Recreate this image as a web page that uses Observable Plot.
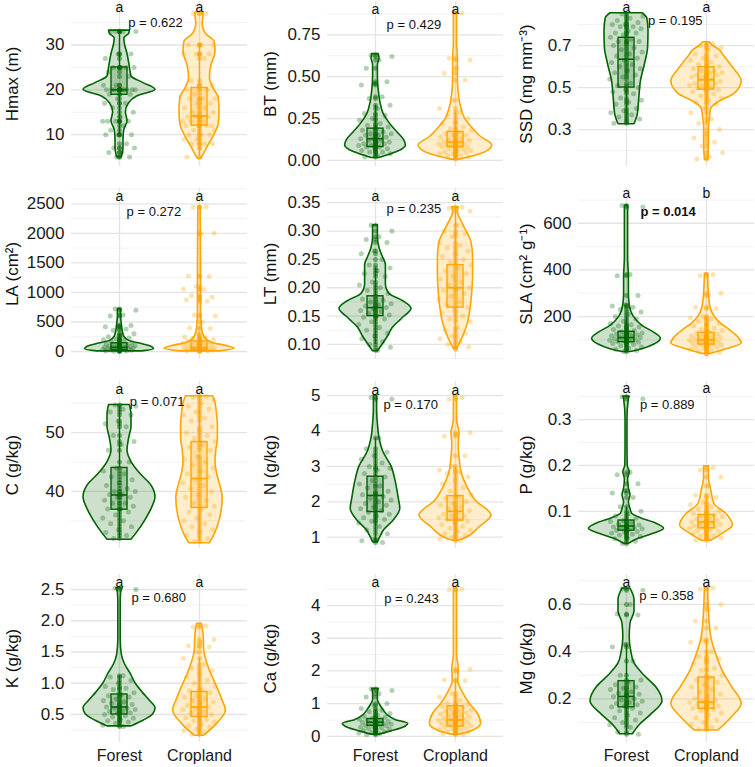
<!DOCTYPE html>
<html><head><meta charset="utf-8">
<script src="https://cdn.jsdelivr.net/npm/d3@7"></script>
<script src="https://cdn.jsdelivr.net/npm/@observablehq/plot@0.6"></script>
<style>
body{margin:0;background:#fff;overflow:hidden;}
#wrap{position:relative;width:755px;height:767px;background:#fff;}
#wrap svg{position:absolute;overflow:visible;}
</style></head><body><div id="wrap"></div>
<script>
const groups = ["Forest", "Cropland"];
const yTitles = ["Hmax (m)","BT (mm)","SSD (mg mm⁻³)","LA (cm²)","LT (mm)","SLA (cm² g⁻¹)","C (g/kg)","N (g/kg)","P (g/kg)","K (g/kg)","Ca (g/kg)","Mg (g/kg)"];
const pValues = ["0.622","0.429","0.195","0.272","0.235","0.014","0.071","0.170","0.889","0.680","0.243","0.358"];
const lettersForest = ["a","a","a","a","a","a","a","a","a","a","a","a"];
const lettersCropland = ["a","a","a","a","a","b","a","a","a","a","a","a"];
const yTicks = [[10,20,30],[0,0.25,0.5,0.75],[0.3,0.5,0.7],[0,500,1000,1500,2000,2500],[0.10,0.15,0.20,0.25,0.30,0.35],[200,400,600],[40,50],[1,2,3,4,5],[0.1,0.2,0.3],[0.5,1.0,1.5,2.0,2.5],[0,1,2,3,4],[0.2,0.4,0.6]];
const yTickLabels = [["10","20","30"],["0.00","0.25","0.50","0.75"],["0.3","0.5","0.7"],["0","500","1000","1500","2000","2500"],["0.10","0.15","0.20","0.25","0.30","0.35"],["200","400","600"],["40","50"],["1","2","3","4","5"],["0.1","0.2","0.3"],["0.5","1.0","1.5","2.0","2.5"],["0","1","2","3","4"],["0.2","0.4","0.6"]];
const yLimits = [[2.9,39.7],[-0.036,0.949],[0.124,0.91],[-135,2759],[0.0735,0.375],[16,749],[30.3,58.7],[0.68,5.4],[0.019,0.383],[0.052,2.74],[-0.19,4.95],[0.015,0.727]];
const letterY = [38.3,0.902,0.881,2629,0.3616,727,57.4,5.14,0.367,2.61,4.71,0.694];
const pLabelX = [1.45,1.48,1.61,1.43,1.48,1.52,1.47,1.44,1.51,1.49,1.45,1.5];
const pLabelY = [35,0.811,0.819,2370,0.3394,651,55.2,4.75,0.332,2.37,4.22,0.638];

const boxForest = [[18.9,20,25],[0.08,0.13,0.19],[0.5,0.635,0.737],[20,70,140],[0.15,0.165,0.185],[90,110,135],[36.9,39.4,44],[1.71,2.18,2.71],[0.058,0.068,0.08],[0.5,0.62,0.82],[0.32,0.43,0.53],[0.164,0.21,0.275]];
const boxCropland = [[12,14.2,20.4],[0.08,0.11,0.17],[0.49,0.537,0.597],[25,65,170],[0.165,0.2,0.24],[80,100,130],[37.2,42.2,48.4],[1.47,1.73,2.16],[0.063,0.077,0.092],[0.46,0.62,0.86],[0.3,0.5,0.92],[0.158,0.186,0.29]];

// observations
const hmaxForest = [33,33,33,33,28,28,27,25,25,25,25,24,23,21,21,20,20,20,20,20,20,20,20,20,19,19,18,17,17,16,15,14,13,13,13,13,12,11,10,10,10,8,7,7,6,6,5,5];
const hmaxCropland = [37,37,30,30,30,28,28,28,27,22,21,21,20,20,19,18,18,18,17,17,16,16,15,15,14,14,14,14,13,13,13,12,12,12,12,11,11,10,10,10,9,9,8,8,8,7,5];
const btForest = [0.63,0.62,0.6,0.55,0.47,0.46,0.45,0.38,0.37,0.33,0.31,0.28,0.27,0.25,0.24,0.22,0.21,0.2,0.19,0.18,0.17,0.16,0.16,0.15,0.15,0.14,0.13,0.13,0.12,0.12,0.11,0.11,0.1,0.1,0.09,0.09,0.08,0.08,0.07,0.07,0.06,0.05,0.05,0.04,0.03,0.02];
const btCropland = [0.88,0.61,0.6,0.55,0.52,0.48,0.36,0.31,0.29,0.27,0.25,0.23,0.22,0.2,0.19,0.18,0.17,0.16,0.15,0.15,0.14,0.13,0.12,0.12,0.11,0.11,0.1,0.1,0.1,0.09,0.09,0.08,0.08,0.08,0.07,0.07,0.06,0.06,0.05,0.05,0.04,0.04,0.03,0.03,0.02,0.01];
const ssdForest = [0.85,0.84,0.83,0.82,0.81,0.8,0.8,0.79,0.79,0.78,0.77,0.76,0.76,0.75,0.74,0.73,0.72,0.72,0.71,0.7,0.69,0.68,0.67,0.66,0.65,0.64,0.63,0.62,0.61,0.6,0.59,0.58,0.57,0.56,0.55,0.54,0.52,0.51,0.5,0.49,0.48,0.47,0.45,0.44,0.43,0.42,0.4,0.39,0.38,0.37,0.36,0.35,0.34,0.33];
const ssdCropland = [0.71,0.7,0.69,0.68,0.66,0.65,0.64,0.63,0.62,0.61,0.6,0.6,0.59,0.58,0.58,0.57,0.57,0.56,0.56,0.55,0.55,0.54,0.54,0.53,0.53,0.52,0.52,0.51,0.51,0.5,0.5,0.49,0.49,0.48,0.47,0.46,0.45,0.44,0.43,0.42,0.4,0.38,0.35,0.33,0.3,0.28,0.26,0.24,0.22,0.19,0.17,0.16];
const laForest = [720,700,620,600,440,430,420,380,360,300,280,250,230,210,200,190,170,150,140,130,120,110,100,95,90,85,80,75,70,65,60,55,50,45,40,35,30,25,20,15,10,8,5];
const laCropland = [2450,2440,2000,1990,1280,1270,1100,1060,1050,950,920,900,870,850,620,600,500,400,390,300,250,240,220,200,190,180,160,150,140,130,120,110,100,90,80,70,60,55,50,45,40,35,30,25,20,15,10,5];
const ltForest = [0.31,0.3,0.29,0.285,0.28,0.265,0.26,0.25,0.24,0.235,0.23,0.225,0.22,0.21,0.205,0.2,0.195,0.19,0.185,0.18,0.178,0.175,0.172,0.17,0.168,0.165,0.163,0.16,0.158,0.155,0.152,0.15,0.148,0.145,0.14,0.135,0.13,0.125,0.12,0.115,0.11,0.105,0.1,0.095,0.09];
const ltCropland = [0.342,0.34,0.335,0.31,0.3,0.295,0.29,0.28,0.275,0.27,0.265,0.26,0.255,0.25,0.245,0.24,0.235,0.23,0.225,0.22,0.215,0.21,0.205,0.2,0.198,0.195,0.19,0.185,0.18,0.175,0.17,0.165,0.16,0.155,0.15,0.145,0.14,0.13,0.125,0.12,0.115,0.11,0.105,0.1,0.095,0.092];
const slaForest = [676,670,380,375,290,250,245,240,230,220,210,200,190,180,170,165,160,155,150,145,140,135,130,128,125,122,120,118,115,112,110,108,105,102,100,98,95,92,90,88,85,80,75,70,65,60,55,50];
const slaCropland = [380,375,300,290,240,235,200,195,190,180,170,165,160,150,145,140,135,130,125,120,118,115,112,110,108,105,102,100,98,95,92,90,88,85,82,80,78,75,70,68,65,60,55,50,45,40];
const cForest = [54.7,54.5,54,53.5,53,52,51.5,51,49.5,48.5,48,47,45,44,43.5,43,42.5,42,41.5,41,40.5,40,40,39.5,39.5,39,39,38.5,38,38,37.5,37,37,36.5,36,35.5,35,34.5,34,33.5,33,32.5,32];
const cCropland = [56.2,56,55.5,55,54.5,54,53.5,53,52.5,52,51,50.5,50,49.5,49,48.5,48,47.5,47,46,45.5,45,44.5,44,43.5,43,42.5,42,41.5,41,40.5,40,39.5,39,38.5,38,37.5,37,36.5,36,35.5,35,34.5,34,33.5,33,32.5,32,31.5];
const nForest = [4.95,4.9,3.8,3.5,3.4,3.3,3.2,3.1,3.0,2.95,2.9,2.8,2.7,2.6,2.5,2.45,2.4,2.3,2.25,2.2,2.15,2.1,2.05,2.0,1.95,1.9,1.85,1.8,1.75,1.7,1.65,1.6,1.55,1.5,1.45,1.4,1.3,1.2,1.1,0.95,0.9,0.85];
const nCropland = [4.95,4.9,3.95,3.9,3.85,3.3,3.0,2.9,2.85,2.8,2.7,2.6,2.5,2.4,2.3,2.2,2.15,2.1,2.0,1.95,1.9,1.85,1.8,1.75,1.7,1.65,1.6,1.6,1.55,1.5,1.5,1.45,1.4,1.35,1.3,1.25,1.2,1.15,1.1,1.05,1.0,0.95,0.9];
const pForest = [0.35,0.345,0.185,0.18,0.16,0.145,0.14,0.13,0.11,0.1,0.095,0.09,0.085,0.08,0.078,0.075,0.072,0.07,0.068,0.066,0.065,0.063,0.062,0.06,0.058,0.056,0.055,0.053,0.05,0.048,0.045,0.042,0.04,0.035,0.03];
const pCropland = [0.195,0.19,0.175,0.155,0.135,0.13,0.12,0.115,0.11,0.105,0.1,0.098,0.095,0.092,0.09,0.088,0.085,0.083,0.08,0.078,0.076,0.075,0.073,0.072,0.07,0.068,0.066,0.065,0.063,0.06,0.058,0.056,0.053,0.05,0.047,0.045,0.042,0.04,0.037];
const kForest = [2.52,2.5,1.12,1.1,1.05,1.0,0.95,0.92,0.9,0.85,0.82,0.8,0.78,0.75,0.72,0.7,0.68,0.66,0.64,0.62,0.6,0.6,0.58,0.56,0.55,0.53,0.52,0.5,0.48,0.46,0.44,0.42,0.4,0.38,0.36,0.33,0.31];
const kCropland = [1.92,1.9,1.7,1.65,1.6,1.58,1.5,1.4,1.3,1.25,1.2,1.15,1.1,1.05,1.0,0.95,0.9,0.88,0.85,0.8,0.78,0.75,0.72,0.7,0.68,0.65,0.62,0.6,0.58,0.55,0.52,0.5,0.48,0.45,0.42,0.4,0.38,0.35,0.32,0.3,0.27,0.24,0.21,0.18];
const caForest = [1.45,1.4,1.3,1.2,1.0,0.95,0.85,0.8,0.75,0.7,0.65,0.6,0.58,0.55,0.52,0.5,0.48,0.45,0.43,0.42,0.4,0.38,0.37,0.35,0.33,0.32,0.3,0.28,0.26,0.24,0.22,0.2,0.18,0.15,0.12,0.1,0.08,0.05];
const caCropland = [4.5,4.48,2.05,2.0,1.72,1.7,1.3,1.2,1.1,1.0,0.98,0.95,0.92,0.9,0.85,0.8,0.78,0.75,0.72,0.7,0.68,0.65,0.62,0.6,0.58,0.55,0.52,0.5,0.48,0.46,0.44,0.42,0.4,0.38,0.36,0.34,0.32,0.3,0.28,0.25,0.22,0.2,0.18,0.15,0.12,0.1,0.08,0.05];
const mgForest = [0.667,0.66,0.6,0.56,0.555,0.43,0.42,0.36,0.3,0.28,0.27,0.26,0.25,0.245,0.24,0.23,0.225,0.22,0.215,0.21,0.2,0.195,0.19,0.185,0.18,0.175,0.17,0.165,0.16,0.15,0.14,0.13,0.12,0.11,0.1,0.09,0.08,0.06,0.05];
const mgCropland = [0.67,0.665,0.6,0.58,0.53,0.5,0.45,0.44,0.4,0.38,0.37,0.36,0.35,0.33,0.32,0.3,0.29,0.28,0.27,0.26,0.25,0.24,0.23,0.22,0.21,0.2,0.195,0.19,0.185,0.18,0.175,0.17,0.165,0.16,0.155,0.15,0.14,0.13,0.12,0.11,0.1,0.09,0.08,0.07];

// violin density profiles: [value, half width]
const hmaxForestViolin = [[5,0.03],[7,0.05],[9,0.05],[11,0.06],[13,0.1],[15,0.08],[17,0.12],[18.5,0.22],[20,0.45],[21.5,0.3],[23,0.15],[25,0.13],[28,0.1],[30,0.07],[31.5,0.06],[32.5,0.12],[33.2,0.13]];
const hmaxCroplandViolin = [[4.6,0.02],[5.5,0.05],[7.2,0.1],[9.4,0.17],[12.4,0.24],[15.3,0.25],[18.2,0.24],[20.5,0.17],[22.6,0.13],[25.5,0.15],[28.4,0.2],[30.6,0.19],[32.5,0.08],[34.6,0.04],[36.5,0.05],[37.3,0.05]];
const btForestViolin = [[0.015,0.05],[0.05,0.27],[0.09,0.38],[0.12,0.36],[0.17,0.27],[0.22,0.18],[0.28,0.1],[0.35,0.06],[0.42,0.04],[0.5,0.03],[0.57,0.03],[0.61,0.05],[0.635,0.04]];
const btCroplandViolin = [[0.005,0.05],[0.04,0.33],[0.09,0.46],[0.14,0.32],[0.2,0.2],[0.25,0.12],[0.3,0.08],[0.4,0.04],[0.5,0.03],[0.6,0.03],[0.7,0.02],[0.8,0.02],[0.885,0.02]];
const ssdForestViolin = [[0.325,0.1],[0.37,0.14],[0.45,0.16],[0.53,0.18],[0.61,0.23],[0.69,0.27],[0.77,0.275],[0.83,0.26],[0.854,0.2]];
const ssdCroplandViolin = [[0.155,0.02],[0.24,0.03],[0.31,0.03],[0.35,0.04],[0.4,0.06],[0.43,0.15],[0.47,0.35],[0.53,0.44],[0.6,0.32],[0.65,0.22],[0.68,0.16],[0.7,0.08],[0.716,0.04]];
const laForestViolin = [[2,0.28],[40,0.43],[80,0.4],[120,0.3],[180,0.12],[250,0.06],[350,0.04],[450,0.03],[600,0.02],[720,0.02]];
const laCroplandViolin = [[2,0.25],[45,0.44],[90,0.35],[150,0.15],[250,0.06],[400,0.03],[700,0.02],[1200,0.02],[2450,0.015]];
const ltForestViolin = [[0.088,0.03],[0.1,0.09],[0.115,0.16],[0.13,0.22],[0.145,0.33],[0.163,0.45],[0.175,0.36],[0.19,0.17],[0.205,0.13],[0.22,0.13],[0.24,0.13],[0.255,0.09],[0.27,0.05],[0.29,0.03],[0.31,0.03]];
const ltCroplandViolin = [[0.092,0.02],[0.112,0.09],[0.135,0.15],[0.165,0.19],[0.194,0.21],[0.224,0.22],[0.253,0.22],[0.28,0.2],[0.31,0.1],[0.334,0.03],[0.342,0.04]];
const slaForestViolin = [[48,0.05],[60,0.2],[80,0.35],[105,0.43],[130,0.35],[160,0.2],[200,0.09],[250,0.04],[300,0.03],[370,0.03],[450,0.02],[600,0.02],[676,0.02]];
const slaCroplandViolin = [[40,0.05],[60,0.25],[85,0.44],[110,0.4],[140,0.3],[170,0.18],[200,0.1],[240,0.05],[300,0.03],[383,0.02]];
const cForestViolin = [[31.8,0.15],[33,0.22],[35,0.32],[37,0.4],[39,0.45],[41,0.4],[43,0.26],[45,0.15],[47,0.1],[49,0.12],[51,0.15],[53,0.15],[54.7,0.13]];
const cCroplandViolin = [[31.2,0.13],[33,0.2],[35,0.25],[37,0.28],[39,0.29],[41,0.26],[43,0.22],[45,0.2],[47,0.21],[49,0.23],[51,0.23],[53,0.22],[55,0.2],[56.2,0.17]];
const nForestViolin = [[0.85,0.03],[1.0,0.06],[1.2,0.11],[1.45,0.22],[1.8,0.31],[2.1,0.29],[2.6,0.25],[3.0,0.2],[3.4,0.1],[3.8,0.05],[4.2,0.03],[4.6,0.02],[5.0,0.02]];
const nCroplandViolin = [[0.9,0.03],[0.95,0.1],[1.28,0.3],[1.61,0.45],[2.04,0.25],[2.41,0.15],[2.79,0.08],[3.26,0.05],[3.6,0.04],[3.95,0.05],[4.3,0.02],[4.7,0.02],[5.0,0.02]];
const pForestViolin = [[0.029,0.03],[0.04,0.15],[0.05,0.32],[0.062,0.47],[0.075,0.35],[0.085,0.18],[0.095,0.07],[0.105,0.05],[0.12,0.03],[0.135,0.05],[0.15,0.03],[0.17,0.02],[0.185,0.04],[0.2,0.015],[0.25,0.012],[0.3,0.012],[0.345,0.03],[0.35,0.04]];
const pCroplandViolin = [[0.036,0.06],[0.051,0.2],[0.069,0.33],[0.094,0.25],[0.116,0.1],[0.145,0.06],[0.175,0.03],[0.198,0.03]];
const kForestViolin = [[0.31,0.15],[0.4,0.3],[0.5,0.42],[0.6,0.45],[0.72,0.38],[0.85,0.29],[1.0,0.2],[1.15,0.14],[1.3,0.07],[1.45,0.03],[1.7,0.015],[2.0,0.015],[2.3,0.015],[2.45,0.02],[2.52,0.04]];
const kCroplandViolin = [[0.16,0.06],[0.35,0.22],[0.56,0.33],[0.75,0.28],[0.94,0.22],[1.2,0.13],[1.52,0.06],[1.79,0.05],[1.95,0.03]];
const caForestViolin = [[0.05,0.05],[0.15,0.2],[0.3,0.38],[0.38,0.41],[0.5,0.25],[0.65,0.15],[0.8,0.1],[0.95,0.06],[1.1,0.03],[1.3,0.03],[1.45,0.04]];
const caCroplandViolin = [[0.05,0.05],[0.17,0.22],[0.38,0.32],[0.69,0.28],[0.99,0.18],[1.3,0.1],[1.7,0.035],[2.05,0.04],[2.5,0.02],[3.5,0.02],[4.56,0.02]];
const mgForestViolin = [[0.05,0.08],[0.09,0.17],[0.13,0.3],[0.19,0.45],[0.25,0.37],[0.3,0.22],[0.35,0.1],[0.4,0.06],[0.46,0.04],[0.52,0.05],[0.57,0.1],[0.62,0.1],[0.667,0.05]];
const mgCroplandViolin = [[0.066,0.15],[0.122,0.32],[0.179,0.44],[0.25,0.32],[0.32,0.2],[0.39,0.12],[0.46,0.06],[0.574,0.03],[0.673,0.02]];

const forestValues = [hmaxForest,btForest,ssdForest,laForest,ltForest,slaForest,cForest,nForest,pForest,kForest,caForest,mgForest];
const croplandValues = [hmaxCropland,btCropland,ssdCropland,laCropland,ltCropland,slaCropland,cCropland,nCropland,pCropland,kCropland,caCropland,mgCropland];
const forestViolins = [hmaxForestViolin,btForestViolin,ssdForestViolin,laForestViolin,ltForestViolin,slaForestViolin,cForestViolin,nForestViolin,pForestViolin,kForestViolin,caForestViolin,mgForestViolin];
const croplandViolins = [hmaxCroplandViolin,btCroplandViolin,ssdCroplandViolin,laCroplandViolin,ltCroplandViolin,slaCroplandViolin,cCroplandViolin,nCroplandViolin,pCroplandViolin,kCroplandViolin,caCroplandViolin,mgCroplandViolin];

// layout
const colors = ["#006400", "#FFA500"];
const colLeft = [0, 251, 502];
const marginLefts = [71, 76, 76];
const titleOffsetPx = [59, 57, 52];
const rowTop = [1, 188, 381, 574];
const rowHeight = [165, 171, 167, 168];
const PW = 176;
const unitPx = PW / 2.2;
const font = "'Liberation Sans', Arial, Helvetica, sans-serif";
const jitter = i => ((((i * 0.6180339887) + 0.37) % 1) - 0.5) * 0.42;

const wrap = document.getElementById("wrap");

for (let k = 0; k < 12; k++) {
  const row = Math.floor(k / 3), col = k % 3;
  const ml = marginLefts[col];
  const bottomRow = row === 3;
  const mb = bottomRow ? 25 : 0;
  const [lo, hi] = yLimits[k];
  const major = yTicks[k];
  const step = major[1] - major[0];
  const minor = [];
  for (let i = -1; i < major.length; i++) {
    const m = +(major[0] + (i + 0.5) * step).toFixed(6);
    if (m >= lo && m <= hi) minor.push(m);
  }
  const marks = [
    Plot.gridY(minor, {stroke: "#efefef", strokeOpacity: 1, strokeWidth: 0.8}),
    Plot.gridY(major, {stroke: "#e4e4e4", strokeOpacity: 1, strokeWidth: 1.3}),
    Plot.gridX([1, 2], {stroke: "#e4e4e4", strokeOpacity: 1, strokeWidth: 1.3})
  ];
  for (let g = 0; g < 2; g++) {
    const pos = g + 1;
    const color = colors[g];
    const vals = g === 0 ? forestValues[k] : croplandValues[k];
    const vio = g === 0 ? forestViolins[k] : croplandViolins[k];
    const box = g === 0 ? boxForest[k] : boxCropland[k];
    const [q1, med, q3] = box;
    const iqr = q3 - q1;
    const inside = vals.filter(v => v >= q1 - 1.5 * iqr && v <= q3 + 1.5 * iqr);
    const lw = Math.min(q1, d3.min(inside)), uw = Math.max(q3, d3.max(inside));
    marks.push(
      Plot.areaX(vio, {y: d => d[0], x1: d => pos - d[1], x2: d => pos + d[1], fill: color, fillOpacity: 0.2, stroke: color, strokeWidth: 1.6, curve: "monotone-y"}),
      Plot.dot(vals, {x: (d, i) => pos + jitter(i + g * 7), y: d => d, r: 2.5, fill: color, fillOpacity: 0.3}),
      Plot.ruleX([[lw, q1], [q3, uw]], {x: pos, y1: d => d[0], y2: d => d[1], stroke: color, strokeWidth: 1.4}),
      Plot.rect([box], {x1: pos - 0.1, x2: pos + 0.1, y1: d => d[0], y2: d => d[2], fill: color, fillOpacity: 0.2, stroke: color, strokeWidth: 1.4}),
      Plot.ruleY([box], {y: d => d[1], x1: pos - 0.1, x2: pos + 0.1, stroke: color, strokeWidth: 1.6}),
      Plot.dot(vals, {x: pos, y: d => d, r: 2.5, fill: color, fillOpacity: 0.45})
    );
  }
  const titleX = 0.4 - titleOffsetPx[col] / unitPx;
  marks.push(
    Plot.text([{x: 1, t: lettersForest[k]}, {x: 2, t: lettersCropland[k]}], {x: "x", y: () => letterY[k], text: "t", fontSize: 14, fill: "#111"}),
    Plot.text([`p = ${pValues[k]}`], {x: () => pLabelX[k], y: () => pLabelY[k], fontSize: 13, fill: "#111", fontWeight: +pValues[k] < 0.05 ? "bold" : "normal"}),
    Plot.axisY(major, {tickSize: 0, tickPadding: 7, fontSize: 17, fill: "#1a1a1a", label: null, tickFormat: (d, i) => yTickLabels[k][i]}),
    Plot.text([yTitles[k]], {x: () => titleX, y: () => (lo + hi) / 2, rotate: -90, fontSize: 17, fill: "#111"})
  );
  if (bottomRow) {
    marks.push(Plot.axisX([1, 2], {tickSize: 0, tickPadding: 7, fontSize: 16, fill: "#1a1a1a", label: null, tickFormat: d => groups[d - 1]}));
  }
  const svg = Plot.plot({
    width: ml + PW + 1,
    height: rowHeight[row] + mb,
    marginLeft: ml, marginRight: 1, marginTop: 0, marginBottom: mb,
    style: {fontFamily: font, background: "transparent", overflow: "visible"},
    x: {domain: [0.4, 2.6], axis: null},
    y: {domain: [lo, hi], axis: null},
    marks
  });
  svg.style.left = colLeft[col] + "px";
  svg.style.top = rowTop[row] + "px";
  wrap.appendChild(svg);
}
</script></body></html>
